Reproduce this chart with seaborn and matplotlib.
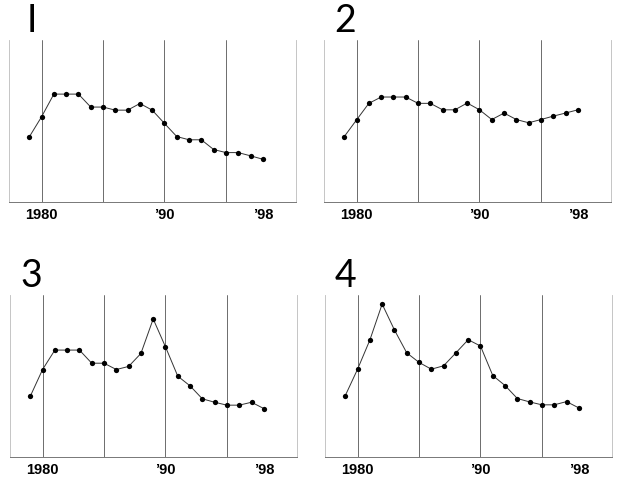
import matplotlib
matplotlib.use("Agg")
import matplotlib.pyplot as plt
import seaborn as sns
import pandas as pd

# --- data (arbitrary 0-100 scale) ---
years = list(range(1979, 1999))
series_1 = [40.2, 52.6, 66.6, 66.6, 66.6, 58.6, 58.6, 56.7, 56.7, 60.8,
            56.7, 48.5, 40.4, 38.4, 38.4, 32.4, 30.5, 30.5, 28.5, 26.4]
series_2 = [40.4, 50.7, 60.9, 64.8, 64.8, 64.8, 60.9, 60.9, 56.9, 56.9,
            61.1, 56.9, 50.9, 54.9, 50.9, 48.9, 50.9, 53.0, 54.9, 56.9]
series_3 = [37.5, 54.0, 66.0, 66.0, 66.0, 57.9, 57.9, 54.0, 55.9, 63.9,
            85.2, 68.0, 49.9, 43.9, 35.9, 33.8, 32.0, 32.0, 33.8, 29.9]
series_4 = [37.9, 54.2, 72.2, 94.4, 78.4, 64.3, 58.4, 54.2, 56.3, 64.3,
            72.4, 68.5, 50.3, 44.1, 36.1, 34.0, 32.2, 32.2, 34.2, 30.3]
panel_titles = ["I", "2", "3", "4"]
grid_years = [1980, 1985, 1990, 1995]
tick_years = [1980, 1990, 1998]
tick_labels = ["1980", "\u201990", "\u201998"]

sns.set_theme(style="white")
plt.rcParams["font.family"] = ["Liberation Sans", "DejaVu Sans"]

fig = plt.figure(figsize=(6.4, 4.8), dpi=100)
# axes boxes in pixel terms: (left, bottom, width, height) as figure fractions
boxes = [
    (9 / 640, 1 - 202 / 480, 287 / 640, 162 / 480),
    (324 / 640, 1 - 202 / 480, 287 / 640, 162 / 480),
    (10 / 640, 1 - 457 / 480, 287 / 640, 162 / 480),
    (325 / 640, 1 - 457 / 480, 287 / 640, 162 / 480),
]
title_x = [0.06, 0.035, 0.035, 0.035]
all_series = [series_1, series_2, series_3, series_4]

for box, vals, title, tx in zip(boxes, all_series, panel_titles, title_x):
    ax = fig.add_axes(box)
    df = pd.DataFrame({"year": years, "value": vals})
    for gx in grid_years:
        ax.axvline(gx, color="#555555", lw=0.6, zorder=0)
    sns.lineplot(data=df, x="year", y="value", ax=ax, color="#333333",
                 lw=0.7, marker="o", markersize=3.8, markeredgewidth=0,
                 markerfacecolor="black")
    ax.set_xlim(1977.35, 2000.7)
    ax.set_ylim(0, 100)
    ax.set_xticks(tick_years)
    ax.set_xticklabels(tick_labels, fontsize=10.5, fontweight="bold",
                       color="black")
    ax.set_yticks([])
    ax.set_xlabel("")
    ax.set_ylabel("")
    ax.tick_params(axis="x", length=0, pad=4)
    for side in ["left", "right"]:
        ax.spines[side].set_color("#bbbbbb")
        ax.spines[side].set_linewidth(0.6)
    ax.spines["bottom"].set_color("#777777")
    ax.spines["bottom"].set_linewidth(0.7)
    ax.spines["top"].set_visible(False)
    ax.text(tx, 1 + 8 / 162, title, transform=ax.transAxes, fontsize=27,
            family="Lato", fontweight="normal", color="black",
            ha="left", va="baseline")

fig.savefig("out.png", dpi=100, facecolor="white")
